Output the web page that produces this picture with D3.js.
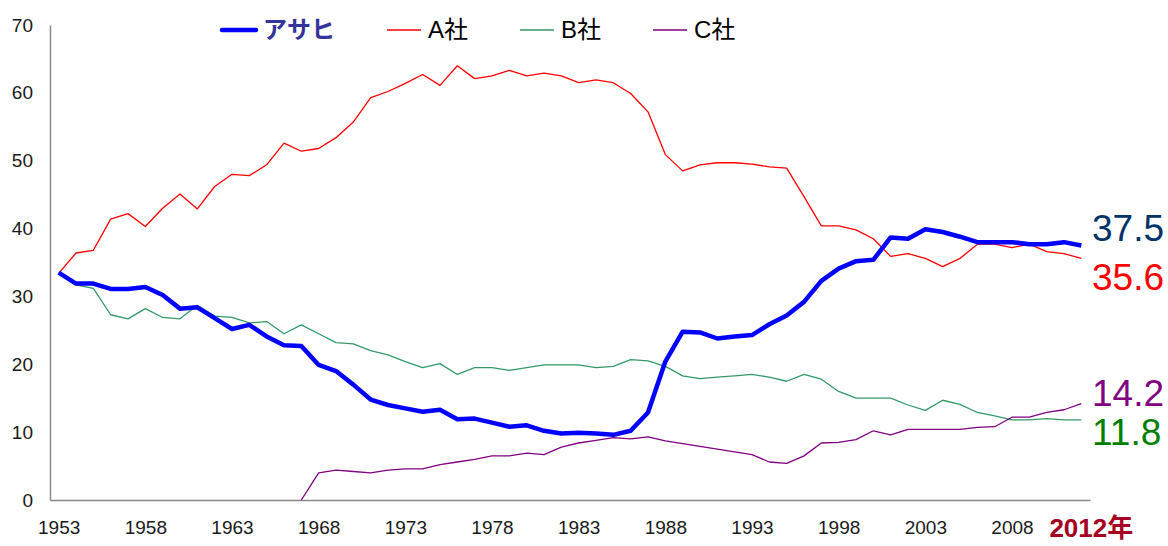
<!DOCTYPE html>
<html>
<head>
<meta charset="utf-8">
<script src="https://cdn.jsdelivr.net/npm/d3@7"></script>
<style>
  html, body { margin: 0; padding: 0; background: #fff; }
  svg { display: block; font-family: Arial, "Liberation Sans", sans-serif; }
</style>
</head>
<body>
<svg id="chart" width="1168" height="546"></svg>
<script>
const years = d3.range(1953, 2013);
const xTickLabels = ["1953", "1958", "1963", "1968", "1973", "1978", "1983", "1988", "1993", "1998", "2003", "2008"];
const lastLabel = "2012年";
const yTicks = [0, 10, 20, 30, 40, 50, 60, 70];
const seriesNames = ["アサヒ", "A社", "B社", "C社"];

const asahi = [33.5, 31.9, 31.9, 31.1, 31.1, 31.4, 30.2, 28.2, 28.4, 26.8, 25.2, 25.8, 24.1, 22.8, 22.7, 19.9, 19.0, 17.0, 14.8,
  14.0, 13.5, 13.0, 13.3, 11.9, 12.0, 11.4, 10.8, 11.0, 10.2, 9.8, 9.9, 9.8, 9.6, 10.2, 12.9, 20.4, 24.8, 24.7,
  23.8, 24.1, 24.3, 25.9, 27.2, 29.2, 32.3, 34.1, 35.2, 35.4, 38.7, 38.5, 39.9, 39.5, 38.8, 38.0, 38.0, 38.0, 37.7, 37.7, 38.0, 37.5];
const companyA = [33.4, 36.4, 36.8, 41.4, 42.2, 40.3, 43.0, 45.1, 42.9, 46.2, 48.0, 47.8, 49.4, 52.6, 51.4, 51.8, 53.4, 55.7, 59.3,
  60.2, 61.4, 62.7, 61.1, 64.0, 62.1, 62.5, 63.3, 62.5, 62.9, 62.5, 61.5, 61.9, 61.5, 59.9, 57.2, 50.9, 48.5, 49.4,
  49.7, 49.7, 49.5, 49.1, 48.9, 44.7, 40.4, 40.4, 39.8, 38.5, 35.9, 36.3, 35.6, 34.4, 35.6, 37.7, 37.7, 37.2, 37.7, 36.6, 36.3, 35.6];
const companyB = [33.4, 31.7, 31.2, 27.3, 26.7, 28.2, 26.9, 26.7, 28.7, 27.1, 26.9, 26.1, 26.3, 24.5, 25.8, 24.5, 23.2, 23.0, 22.0,
  21.4, 20.4, 19.5, 20.1, 18.5, 19.5, 19.5, 19.1, 19.5, 19.9, 19.9, 19.9, 19.5, 19.7, 20.7, 20.5, 19.7, 18.3, 17.9,
  18.1, 18.3, 18.5, 18.1, 17.5, 18.5, 17.8, 16.0, 15.0, 15.0, 15.0, 14.0, 13.2, 14.7, 14.1, 12.9, 12.4, 11.8, 11.8, 12.0, 11.8, 11.8];
const companyC = [null, null, null, null, null, null, null, null, null, null, null, null, null, null, 0,
  4.0, 4.4, 4.2, 4.0, 4.4, 4.6, 4.6, 5.2, 5.6, 6.0, 6.5, 6.5, 6.9, 6.7, 7.8, 8.4, 8.8, 9.2, 9.0, 9.3, 8.7, 8.3, 7.9,
  7.5, 7.1, 6.7, 5.6, 5.4, 6.5, 8.4, 8.5, 8.9, 10.2, 9.6, 10.4, 10.4, 10.4, 10.4, 10.7, 10.8, 12.2, 12.2, 12.9, 13.3, 14.2];

const series = [
  { name: seriesNames[1], values: companyA, color: "#FF0000", width: 1.3, labelColor: "#FF0000", labelY: 277 },
  { name: seriesNames[2], values: companyB, color: "#339966", width: 1.3, labelColor: "#008000", labelY: 432 },
  { name: seriesNames[3], values: companyC, color: "#800080", width: 1.3, labelColor: "#800080", labelY: 393 },
  { name: seriesNames[0], values: asahi, color: "#0000FF", width: 4.5, labelColor: "#003366", labelY: 228 }
];

const svg = d3.select("#chart");
const mLeft = 50, mRight = 1090, mTop = 25, mBottom = 500;

const x = d3.scalePoint().domain(years).range([mLeft, mRight]).padding(0.5);
const y = d3.scaleLinear().domain([0, 70]).range([mBottom, mTop]);

// y axis
const yAxis = d3.axisLeft(y).tickValues(yTicks).tickSize(0).tickPadding(17).tickFormat(d3.format("d"));
const gy = svg.append("g").attr("transform", `translate(${mLeft},0)`).call(yAxis);
gy.select(".domain").attr("stroke", "#898989").attr("stroke-width", 1.5);
gy.selectAll("text").attr("font-size", 19).attr("fill", "#1a1a1a").attr("font-family", "Arial, 'Liberation Sans', sans-serif");

// x axis
const tickYears = xTickLabels.map(Number);
const xAxis = d3.axisBottom(x).tickValues(tickYears).tickSize(0).tickPadding(21).tickFormat(d => String(d));
const gx = svg.append("g").attr("transform", `translate(0,${mBottom})`).call(xAxis);
gx.select(".domain").attr("stroke", "#898989").attr("stroke-width", 1.5);
gx.selectAll("text").attr("font-size", 19).attr("fill", "#1a1a1a").attr("font-family", "Arial, 'Liberation Sans', sans-serif");

svg.append("text")
  .attr("x", x(2012) + 10)
  .attr("y", mBottom + 37)
  .attr("text-anchor", "middle")
  .attr("font-size", 26)
  .attr("font-weight", "bold")
  .attr("fill", "#A50021")
  .attr("font-family", "Arial, 'Liberation Sans', 'Noto Sans CJK JP', sans-serif")
  .text(lastLabel);

// lines
const line = d3.line()
  .defined(d => d != null)
  .x((d, i) => x(years[i]))
  .y(d => y(d));

series.forEach(s => {
  svg.append("path")
    .datum(s.values)
    .attr("fill", "none")
    .attr("stroke", s.color)
    .attr("stroke-width", s.width)
    .attr("stroke-linejoin", "round")
    .attr("d", line);
});

// end labels
series.forEach(s => {
  const v = s.values[s.values.length - 1];
  svg.append("text")
    .attr("x", 1092)
    .attr("y", s.labelY)
    .attr("dy", "0.35em")
    .attr("font-size", 37)
    .attr("fill", s.labelColor)
    .text(d3.format(".1f")(v));
});

// legend
const legendItems = [
  { name: seriesNames[0], color: "#0000FF", width: 4.5, x: 222, textColor: "#333399", bold: true },
  { name: seriesNames[1], color: "#FF0000", width: 1.3, x: 387, textColor: "#000", bold: false },
  { name: seriesNames[2], color: "#339966", width: 1.3, x: 520, textColor: "#000", bold: false },
  { name: seriesNames[3], color: "#800080", width: 1.3, x: 653, textColor: "#000", bold: false }
];
const lg = svg.append("g");
legendItems.forEach(it => {
  lg.append("line")
    .attr("x1", it.x).attr("x2", it.x + 34)
    .attr("y1", 30).attr("y2", 30)
    .attr("stroke", it.color).attr("stroke-width", it.width)
    .attr("stroke-linecap", it.bold ? "round" : "butt");
  lg.append("text")
    .attr("x", it.x + 41)
    .attr("y", 30)
    .attr("dy", "0.35em")
    .attr("font-size", 24)
    .attr("font-weight", it.bold ? "bold" : "normal")
    .attr("fill", it.textColor)
    .attr("font-family", "Arial, 'Liberation Sans', 'Noto Sans CJK JP', sans-serif")
    .text(it.name);
});
</script>
</body>
</html>
